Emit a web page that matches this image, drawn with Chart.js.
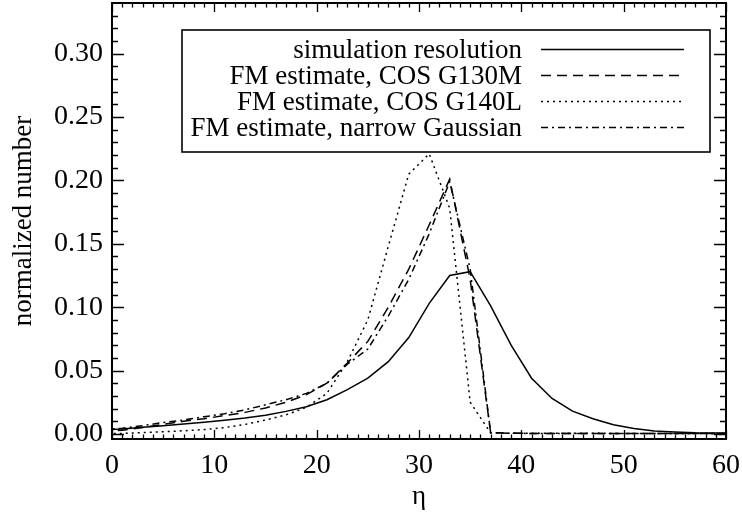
<!DOCTYPE html>
<html>
<head>
<meta charset="utf-8">
<script src="https://cdn.jsdelivr.net/npm/chart.js@4.4.1/dist/chart.umd.min.js"></script>
<style>
  html, body { margin: 0; padding: 0; background: #fff; }
  #wrap { width: 742px; height: 514px; }
</style>
</head>
<body>
<div id="wrap"><canvas id="etaChart" width="742" height="514"></canvas></div>
<script>
// bin centres (eta)
const etaBins = [-1,1,3,5,7,9,11,13,15,17,19,21,23,25,27,29,31,33,35,37,39,41,43,45,47,49,51,53,55,57,59,61];

const simResolution = [0.0030,0.0038,0.0052,0.0065,0.0078,0.0092,0.0107,0.0125,0.0148,0.0178,0.0215,0.0270,0.0350,0.0440,0.0570,0.0760,
  0.1030,0.1250,0.1280,0.1010,0.0700,0.0440,0.0280,0.0180,0.0120,0.0073,0.0042,0.0024,0.0016,0.0010,0.0008,0.0006];
const fmG130M = [0.0020,0.0030,0.0050,0.0075,0.0100,0.0120,0.0145,0.0170,0.0205,0.0250,0.0310,0.0400,0.0560,0.0730,0.1000,0.1300,
  0.1650,0.2010,0.1220,0.0010,0.0005,0.0004,0.0004,0.0004,0.0003,0.0003,0.0003,0.0003,0.0003,0.0003,0.0003,0.0003];
const fmG140L = [0.0002,0.0004,0.0010,0.0017,0.0025,0.0034,0.0050,0.0075,0.0110,0.0150,0.0210,0.0320,0.0570,0.0900,0.1480,0.2050,
  0.2210,0.1780,0.0250,0.0008,0.0006,0.0006,0.0005,0.0005,0.0005,0.0004,0.0004,0.0004,0.0004,0.0003,0.0003,0.0003];
const fmNarrowGauss = [0.0035,0.0045,0.0065,0.0090,0.0110,0.0135,0.0160,0.0190,0.0230,0.0270,0.0320,0.0400,0.0550,0.0670,0.0930,0.1220,
  0.1580,0.1990,0.1300,0.0010,0.0005,0.0004,0.0004,0.0004,0.0003,0.0003,0.0003,0.0003,0.0003,0.0003,0.0003,0.0003];

const xTicks = [0,10,20,30,40,50,60];
const yTicks = [0,0.05,0.10,0.15,0.20,0.25,0.30];

const serif = "'Liberation Serif', 'Times New Roman', serif";
Chart.defaults.font.family = serif;
Chart.defaults.color = '#000';

function pts(ys) {
  return etaBins.map((x, i) => ({x: x, y: ys[i]}));
}

function series(label, ys, dash) {
  return {
    label: label,
    data: pts(ys),
    borderColor: '#000',
    borderWidth: 1.5,
    borderDash: dash,
    pointRadius: 0,
    fill: false,
    tension: 0
  };
}

// IDL style box with inward ticks on all four sides
const frameTicks = {
  id: 'frameTicks',
  afterDraw(chart) {
    const ctx = chart.ctx, a = chart.chartArea;
    const xs = chart.scales.x, ys = chart.scales.y;
    ctx.save();
    ctx.strokeStyle = '#000';
    ctx.setLineDash([]);
    ctx.lineWidth = 1.3;
    ctx.beginPath();
    for (let v = 0; v <= 60; v += 1) {
      const px = Math.round(xs.getPixelForValue(v)) + 0.5;
      const len = (v % 10 === 0) ? 9 : 4.5;
      ctx.moveTo(px, a.bottom); ctx.lineTo(px, a.bottom - len);
      ctx.moveTo(px, a.top); ctx.lineTo(px, a.top + len);
    }
    for (let k = 0; k <= 33; k++) {
      const v = k / 100;
      const py = Math.round(ys.getPixelForValue(v)) + 0.5;
      const len = (k % 5 === 0) ? 12 : 6;
      ctx.moveTo(a.left, py); ctx.lineTo(a.left + len, py);
      ctx.moveTo(a.right, py); ctx.lineTo(a.right - len, py);
    }
    ctx.stroke();
    ctx.lineWidth = 2;
    ctx.strokeRect(a.left, a.top, a.right - a.left, a.bottom - a.top);
    ctx.restore();
  }
};

// boxed legend, text on the left, line sample on the right
const boxLegend = {
  id: 'boxLegend',
  afterDraw(chart) {
    const ctx = chart.ctx;
    const box = {left: 182, top: 30, right: 710, bottom: 152};
    ctx.save();
    ctx.fillStyle = '#fff';
    ctx.fillRect(box.left, box.top, box.right - box.left, box.bottom - box.top);
    ctx.strokeStyle = '#000';
    ctx.lineWidth = 1.6;
    ctx.setLineDash([]);
    ctx.strokeRect(box.left, box.top, box.right - box.left, box.bottom - box.top);
    ctx.font = '27px ' + serif;
    ctx.textAlign = 'right';
    ctx.textBaseline = 'alphabetic';
    ctx.fillStyle = '#000';
    chart.data.datasets.forEach((ds, i) => {
      const base = 58 + i * 26;
      ctx.fillText(ds.label, 522, base);
      ctx.setLineDash(ds.borderDash || []);
      ctx.lineWidth = 1.5;
      ctx.beginPath();
      ctx.moveTo(541, base - 8.5);
      ctx.lineTo(684, base - 8.5);
      ctx.stroke();
    });
    ctx.restore();
  }
};

new Chart(document.getElementById('etaChart'), {
  type: 'line',
  data: {
    datasets: [
      series('simulation resolution', simResolution, []),
      series('FM estimate, COS G130M', fmG130M, [10, 6]),
      series('FM estimate, COS G140L', fmG140L, [2, 4]),
      series('FM estimate, narrow Gaussian', fmNarrowGauss, [7, 4, 2, 4])
    ]
  },
  options: {
    responsive: false,
    animation: false,
    devicePixelRatio: 1,
    layout: { padding: { left: 0, top: 3, right: 16, bottom: 0 } },
    plugins: { legend: { display: false }, tooltip: { enabled: false } },
    scales: {
      x: {
        type: 'linear',
        min: 0,
        max: 60,
        afterBuildTicks: s => { s.ticks = xTicks.map(v => ({value: v})); },
        afterFit: s => { s.height = 75; s.paddingLeft = 0; s.paddingRight = 0; },
        grid: { display: false, drawTicks: false },
        border: { display: false },
        ticks: { font: { size: 28 }, padding: 10, maxRotation: 0, callback: v => String(v) },
        title: { display: true, text: 'η', font: { size: 27 }, padding: { top: 0, bottom: 1 } }
      },
      y: {
        type: 'linear',
        min: -0.004,
        max: 0.34,
        afterBuildTicks: s => { s.ticks = yTicks.map(v => ({value: v})); },
        afterFit: s => { s.width = 112; s.paddingTop = 0; s.paddingBottom = 0; },
        grid: { display: false, drawTicks: false },
        border: { display: false },
        ticks: { font: { size: 28 }, padding: 9, callback: v => v.toFixed(2) },
        title: { display: true, text: 'normalized number', font: { size: 27 }, padding: { top: 8, bottom: 0 } }
      }
    }
  },
  plugins: [frameTicks, boxLegend]
});
</script>
</body>
</html>
